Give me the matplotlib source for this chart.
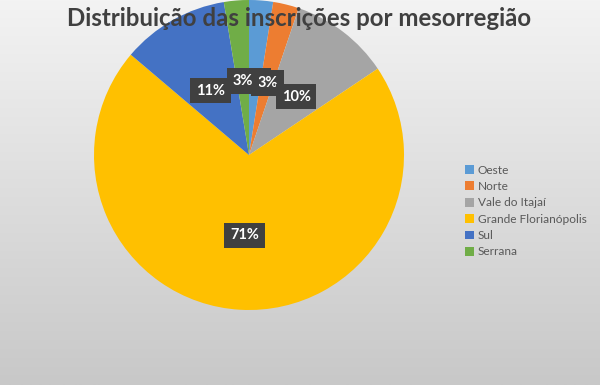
import numpy as np
import matplotlib
matplotlib.use("Agg")
import matplotlib.pyplot as plt

regioes = ['Oeste', 'Norte', 'Vale do Itajaí', 'Grande Florianópolis', 'Sul', 'Serrana']
percentuais = [2.5, 2.7, 10.4, 70.6, 11.2, 2.6]
cores = ['#5B9BD5', '#ED7D31', '#A5A5A5', '#FFC000', '#4472C4', '#70AD47']
titulo = 'Distribuição das inscrições por mesorregião'

plt.rcParams['font.family'] = ['Lato', 'DejaVu Sans']

fig = plt.figure(figsize=(6, 3.85), dpi=100)

# fundo com degradê vertical
bg = fig.add_axes([0, 0, 1, 1])
grad = np.linspace(0, 1, 256).reshape(-1, 1)
bg.imshow(grad, aspect='auto', cmap=matplotlib.colors.LinearSegmentedColormap.from_list(
    'g', ['#f3f3f3', '#c8c8c8']), extent=[0, 1, 0, 1], origin='upper')
bg.set_axis_off()

ax = fig.add_axes([94 / 600, 75 / 385, 310 / 600, 310 / 385])
wedges, _ = ax.pie(percentuais, colors=cores, startangle=90, counterclock=False,
                   radius=1)
ax.set_xlim(-1, 1)
ax.set_ylim(-1, 1)
ax.set_aspect('equal')
ax.set_axis_off()

for w, p in zip(wedges, percentuais):
    ang = np.deg2rad((w.theta1 + w.theta2) / 2)
    r = 0.5
    ax.text(r * np.cos(ang), r * np.sin(ang) - 0.02, f'{round(p):.0f}%', ha='center',
            va='center', color='white', fontsize=10.5, fontweight='bold',
            bbox=dict(boxstyle='square,pad=0.4', fc='#404040', ec='none'))

fig.text(0.498, 0.952, titulo, ha='center', va='center', fontsize=17.3,
         fontweight='bold', color='#404040')

leg = fig.legend(wedges, regioes, loc='center left', bbox_to_anchor=(0.767, 0.452),
                 frameon=False, fontsize=8.6, handlelength=0.75, handleheight=0.75,
                 handletextpad=0.3, labelspacing=0.45, borderaxespad=0)
for t in leg.get_texts():
    t.set_color('#595959')

fig.savefig('out.png', dpi=100)
